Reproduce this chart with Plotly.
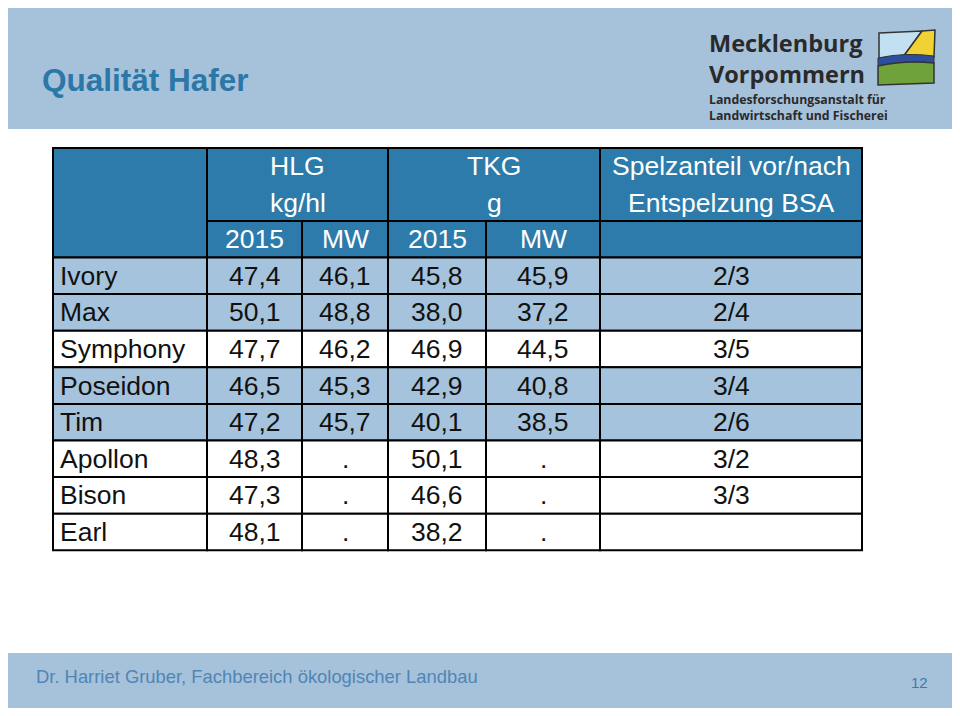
import plotly.graph_objects as go

# ---------------- data ----------------
varieties = ["Ivory", "Max", "Symphony", "Poseidon", "Tim", "Apollon", "Bison", "Earl"]
hlg_2015 = [47.4, 50.1, 47.7, 46.5, 47.2, 48.3, 47.3, 48.1]
hlg_mw = [46.1, 48.8, 46.2, 45.3, 45.7, None, None, None]
tkg_2015 = [45.8, 38.0, 46.9, 42.9, 40.1, 50.1, 46.6, 38.2]
tkg_mw = [45.9, 37.2, 44.5, 40.8, 38.5, None, None, None]
spelz = ["2/3", "2/4", "3/5", "3/4", "2/6", "3/2", "3/3", ""]
group_titles = ["HLG", "TKG", "Spelzanteil vor/nach"]
group_units = ["kg/hl", "g", "Entspelzung BSA"]
sub_headers = ["2015", "MW", "2015", "MW", ""]
title = "Qualität Hafer"
footer = "Dr. Harriet Gruber, Fachbereich ökologischer Landbau"
page_no = "12"
logo_big = ["Mecklenburg", "Vorpommern"]
logo_small = ["Landesforschungsanstalt für", "Landwirtschaft und Fischerei"]

# ---------------- style / layout ----------------
W, H = 960, 716
PAD = 8  # the page body offsets the figure by 8px
FONT = "Liberation Sans, Arial, sans-serif"
BANNER = "#A6C1DA"
HEAD = "#2C7BAA"
LIGHT = "#A5C3DC"
WHITE = "#FFFFFF"
TXT = "#111111"
FS = 26.5
row_fill = [LIGHT, LIGHT, WHITE, LIGHT, LIGHT, WHITE, WHITE, WHITE]

col_edges = [53, 207, 302, 388, 486, 600, 862]
head_top, head_mid, head_bot = 148, 221, 257.5
row_h = 36.6


def fmt(v):
    return "." if v is None else f"{v:.1f}".replace(".", ",")


fig = go.Figure()
fig.add_trace(go.Scatter(x=[PAD, W - PAD], y=[PAD, H - PAD], mode="markers",
                         marker=dict(opacity=0), hoverinfo="skip", showlegend=False))

shapes = []
ann = []


def rect(x0, y0, x1, y1, fill, line_w=0, line_c="black"):
    shapes.append(dict(type="rect", xref="x", yref="y", x0=x0, y0=y0, x1=x1, y1=y1,
                       fillcolor=fill, line=dict(width=line_w, color=line_c)))


def text(x, y, s, size, color=TXT, xanchor="center", bold=False, family=FONT, align="center"):
    ann.append(dict(x=x, y=y, xref="x", yref="y", text=(f"<b>{s}</b>" if bold else s),
                    showarrow=False, xanchor=xanchor, yanchor="middle", align=align,
                    font=dict(family=family, size=size, color=color)))


# banners
rect(4, 1, 957, 129, BANNER)
rect(4, 653, 957, 714, BANNER)

# title
text(40, 80, title, 31.5, color="#2A77A8", xanchor="left", bold=True)

# logo text
LOGO_FONT = "Open Sans, DejaVu Sans, sans-serif"
text(707, 58.5, "<br>".join(logo_big), 23.5, color="#2a2a2a", xanchor="left", bold=True,
     family=LOGO_FONT, align="left")
text(707, 107, "<br>".join(logo_small), 12.3, color="#2a2a2a", xanchor="left", bold=True,
     family=LOGO_FONT, align="left")
# logo picture
shapes.append(dict(type="path", xref="x", yref="y", path="M 879 33 L 922 31 L 903 57 L 879 58 Z",
                   fillcolor="#C3DFF2", line=dict(width=1.5, color="#333")))
shapes.append(dict(type="path", xref="x", yref="y", path="M 922 31 L 935 30 L 934 57 L 903 57 Z",
                   fillcolor="#F0D234", line=dict(width=1.5, color="#333")))
shapes.append(dict(type="path", xref="x", yref="y",
                   path="M 878 58 Q 905 52 934 56 L 934 63 Q 905 60 878 66 Z",
                   fillcolor="#2D4E9E", line=dict(width=1, color="#333")))
shapes.append(dict(type="path", xref="x", yref="y",
                   path="M 878 66 Q 905 60 934 63 L 934 83 L 878 85 Z",
                   fillcolor="#6FA23A", line=dict(width=1.5, color="#333")))

# ---------------- table ----------------
LW = 2
c = col_edges
# header backgrounds
rect(c[0], head_top, c[1], head_bot, HEAD, LW)
rect(c[1], head_top, c[3], head_mid, HEAD, LW)
rect(c[3], head_top, c[5], head_mid, HEAD, LW)
rect(c[5], head_top, c[6], head_mid, HEAD, LW)
for j in range(5):
    rect(c[j + 1], head_mid, c[j + 2], head_bot, HEAD, LW)

group_spans = [(c[1], c[3]), (c[3], c[5]), (c[5], c[6])]
for (a, b), t, u in zip(group_spans, group_titles, group_units):
    text((a + b) / 2, 166, t, FS, color="white")
    text((a + b) / 2, 203, u, FS, color="white")
for j, s in enumerate(sub_headers):
    if s:
        text((c[j + 1] + c[j + 2]) / 2, (head_mid + head_bot) / 2, s, FS, color="white")

# data rows
for i, name in enumerate(varieties):
    y0 = head_bot + i * row_h
    y1 = y0 + row_h
    ym = (y0 + y1) / 2
    for j in range(6):
        rect(c[j], y0, c[j + 1], y1, row_fill[i], LW)
    text(c[0] + 5, ym, name, FS, xanchor="left")
    vals = [fmt(hlg_2015[i]), fmt(hlg_mw[i]), fmt(tkg_2015[i]), fmt(tkg_mw[i]), spelz[i]]
    for j, s in enumerate(vals):
        if s:
            text((c[j + 1] + c[j + 2]) / 2, ym, s, FS)

# footer
text(34, 676, footer, 18.4, color="#4F86B6", xanchor="left")
text(919, 682, page_no, 15, color="#3F79AC")

fig.update_layout(
    width=W - 2 * PAD, height=H - 2 * PAD,
    margin=dict(l=0, r=0, t=0, b=0),
    paper_bgcolor="white", plot_bgcolor="white",
    xaxis=dict(range=[PAD, W - PAD], visible=False, fixedrange=True),
    yaxis=dict(range=[H - PAD, PAD], visible=False, fixedrange=True),
    shapes=shapes, annotations=ann, showlegend=False,
)
fig.write_html("out.html", config={"displayModeBar": False})
